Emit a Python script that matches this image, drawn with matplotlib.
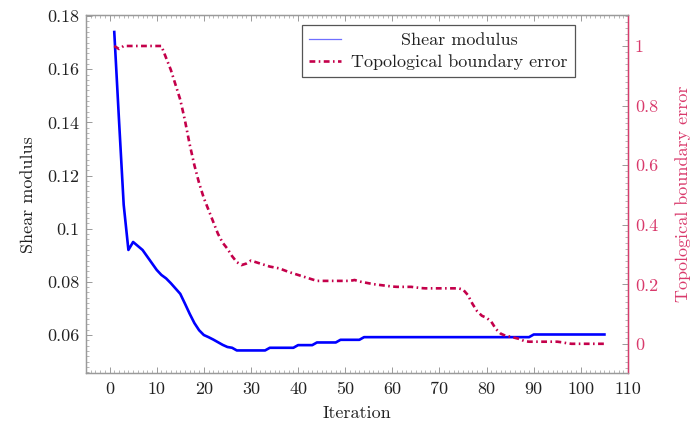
import matplotlib
matplotlib.use("Agg")
import matplotlib.pyplot as plt
from matplotlib.lines import Line2D
from matplotlib.ticker import MultipleLocator, FuncFormatter
import numpy as np

plt.rcParams['font.family'] = ['cmr10', 'DejaVu Serif']
plt.rcParams['mathtext.fontset'] = 'cm'
plt.rcParams['axes.formatter.use_mathtext'] = True

iterations = list(range(1, 106))

shear_modulus = (
    [0.174, 0.141, 0.109, 0.092, 0.095, 0.0935, 0.092, 0.0895, 0.087, 0.0845,
     0.0826, 0.0813, 0.0795, 0.0775, 0.0755, 0.0718, 0.0680, 0.0645, 0.0618, 0.0600,
     0.0592, 0.0583, 0.0573, 0.0563, 0.0555, 0.0552, 0.0542]
    + [0.0542] * 6      # 28-33
    + [0.0552] * 6      # 34-39
    + [0.0562] * 4      # 40-43
    + [0.0572] * 5      # 44-48
    + [0.0582] * 5      # 49-53
    + [0.0592] * 36     # 54-89
    + [0.0602] * 16     # 90-105
)

topo_error = (
    [1.0, 0.99, 1.0, 1.0, 1.0, 1.0, 1.0, 1.0, 1.0, 1.0,
     1.0, 0.96, 0.92, 0.87, 0.82, 0.75, 0.67, 0.60, 0.54, 0.49,
     0.45, 0.41, 0.37, 0.34, 0.32, 0.295, 0.275, 0.265, 0.27, 0.28,
     0.275, 0.27, 0.265, 0.26, 0.257, 0.254, 0.248, 0.242, 0.237, 0.232,
     0.227, 0.222, 0.217, 0.212, 0.212, 0.212, 0.212, 0.212, 0.212, 0.212,
     0.212, 0.215, 0.21, 0.207, 0.204, 0.201, 0.199, 0.197, 0.195, 0.193,
     0.192, 0.192, 0.192, 0.192, 0.19, 0.188, 0.187, 0.187, 0.187, 0.187,
     0.187, 0.187, 0.187, 0.187, 0.183, 0.165, 0.135, 0.11, 0.095, 0.088,
     0.075, 0.05, 0.035, 0.028, 0.025, 0.021, 0.017, 0.01, 0.008, 0.008,
     0.008, 0.008, 0.008, 0.008, 0.008, 0.006, 0.003, 0.001, 0.001, 0.001,
     0.001, 0.001, 0.001, 0.001, 0.001]
)

x_ticks = list(range(0, 111, 10))
left_ticks = [0.06, 0.08, 0.10, 0.12, 0.14, 0.16, 0.18]
right_ticks = [0, 0.2, 0.4, 0.6, 0.8, 1.0]

BLUE = '#0000ff'
RED_LINE = '#c4004a'
RED_AXIS = '#d93a6c'
GRAY = '#9a9a9a'
TXT = '#222222'
FS = 13

fig = plt.figure(figsize=(6.94, 4.28), dpi=100)
ax = fig.add_axes([0.1239, 0.1278, 0.781, 0.8372])
ax2 = ax.twinx()

ax.plot(iterations, shear_modulus, color=BLUE, lw=1.9, solid_joinstyle='round', zorder=3)
ax2.plot(iterations, topo_error, color=RED_LINE, lw=1.9,
         linestyle=(0, (2.2, 1.3, 0.6, 1.3)), dash_capstyle='butt', zorder=3)

ax.set_xlim(-5, 110)
ax.set_ylim(0.0456, 0.1804)
ax2.set_ylim(-0.098, 1.104)

fmt = FuncFormatter(lambda v, p: '%g' % round(v, 6))
ax.set_xticks(x_ticks)
ax.set_yticks(left_ticks)
ax2.set_yticks(right_ticks)
ax.xaxis.set_major_formatter(fmt)
ax.yaxis.set_major_formatter(fmt)
ax2.yaxis.set_major_formatter(fmt)
ax.xaxis.set_minor_locator(MultipleLocator(1))
ax.yaxis.set_minor_locator(MultipleLocator(0.002))
ax2.yaxis.set_minor_locator(MultipleLocator(0.02))

for a in (ax, ax2):
    for s in a.spines.values():
        s.set_color(GRAY)
        s.set_linewidth(0.9)
ax2.spines['right'].set_color(RED_AXIS)
ax2.spines['right'].set_linewidth(1.0)

ax.tick_params(axis='x', which='both', direction='in', top=True, bottom=True,
               color=GRAY, labelsize=FS, labelcolor=TXT, pad=6)
ax.tick_params(axis='y', which='both', direction='in', left=True, right=False,
               color=GRAY, labelsize=FS, labelcolor=TXT, pad=5)
ax.tick_params(which='major', length=4.5, width=0.7)
ax.tick_params(which='minor', length=2.5, width=0.5)
ax2.tick_params(axis='y', which='both', direction='in', right=True, left=False,
                color=GRAY, labelsize=FS, labelcolor=RED_AXIS, pad=5)
ax2.tick_params(which='major', length=4.5, width=0.7)
ax2.tick_params(which='minor', length=2.5, width=0.5)

ax.set_xlabel('Iteration', fontsize=FS, color=TXT, labelpad=6)
ax.set_ylabel('Shear modulus', fontsize=FS, color=TXT, labelpad=8)
ax2.set_ylabel('Topological boundary error', fontsize=FS, color=RED_AXIS, labelpad=12)

handles = [Line2D([], [], color='#6f6fff', lw=0.9),
           Line2D([], [], color=RED_LINE, lw=1.9, linestyle=(0, (2.2, 1.3, 0.6, 1.3)))]
labels = ['Shear modulus', 'Topological boundary error']
leg = ax2.legend(handles, labels, loc='upper right', bbox_to_anchor=(0.902, 0.972),
                 fontsize=FS, frameon=True, fancybox=False, framealpha=1,
                 edgecolor='#555555', borderpad=0.42, labelspacing=0.32,
                 handlelength=1.75, handletextpad=0.55, borderaxespad=0)
leg.get_frame().set_linewidth(0.9)
for t in leg.get_texts():
    t.set_color(TXT)

# centre legend entries (pgfplots style), measuring and correcting the offset
fig.canvas.draw()
renderer = fig.canvas.get_renderer()
texts = leg.get_texts()
ext = [t.get_window_extent(renderer) for t in texts]
imax = int(np.argmax([e.width for e in ext]))
centre = ext[imax].x0 + ext[imax].width / 2
k = 72.0 / fig.dpi
for i, t in enumerate(texts):
    if i == imax:
        continue
    need = (centre - ext[i].width / 2) - ext[i].x0
    t.set_position((need * k, 0))
    fig.canvas.draw()
    got = t.get_window_extent(renderer).x0 - ext[i].x0
    if abs(got) > 1e-6:
        t.set_position((need * k * need / got, 0))
fig.canvas.draw()

fig.savefig('out.png', dpi=100)
